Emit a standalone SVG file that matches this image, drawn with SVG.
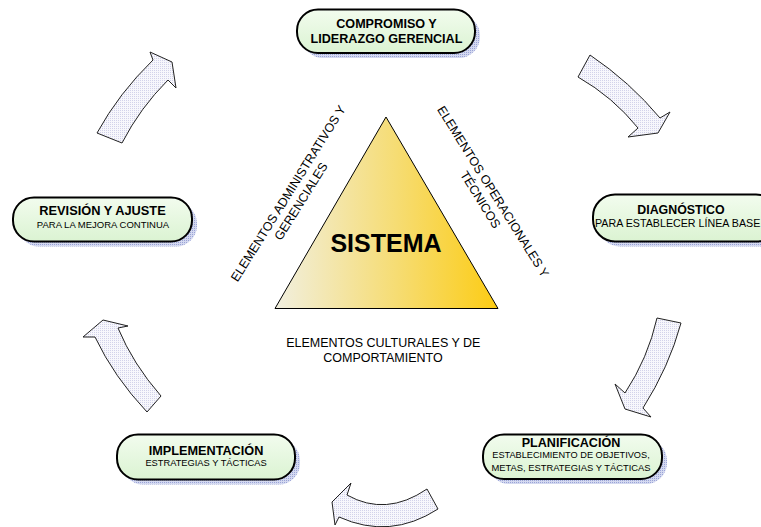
<svg xmlns="http://www.w3.org/2000/svg" width="761" height="527" viewBox="0 0 761 527">
<defs>
<linearGradient id="nodeFill" x1="0" y1="0" x2="0" y2="1">
<stop offset="0" stop-color="#f2fcee"/>
<stop offset="1" stop-color="#dbf3d2"/>
</linearGradient>
<linearGradient id="triFill" x1="0" y1="0" x2="1" y2="0">
<stop offset="0" stop-color="#f1efdf"/>
<stop offset="0.55" stop-color="#f6dc72"/>
<stop offset="1" stop-color="#fccc14"/>
</linearGradient>
<pattern id="shadowPat" width="2" height="2" patternUnits="userSpaceOnUse">
<rect width="2" height="2" fill="#d4d9f0"/>
<rect width="1" height="1" fill="#9aa3d6"/>
</pattern>
<pattern id="arrowPat" width="2" height="2" patternUnits="userSpaceOnUse">
<rect width="2" height="2" fill="#f7f7fc"/>
<rect width="1" height="1" fill="#d2d2ea"/>
</pattern>
<style>
.pill{fill:url(#nodeFill);stroke:#000;stroke-width:2}
.shadow{fill:url(#shadowPat);stroke:none}
.arrow{fill:url(#arrowPat);stroke:#222;stroke-width:1;stroke-linejoin:miter}
.t{font-family:"Liberation Sans",Arial,sans-serif;fill:#000}
.b{font-weight:bold}
.m{text-anchor:middle}
</style>
</defs>
<rect width="761" height="527" fill="#fff"/>

<g id="connectors">
<path class="arrow" d="M97,133 Q119,93 153,60 L150,52 L172,62 L176,88 L168,80 Q140,108 122,143 Z"/>
<path class="arrow" d="M590,55 Q630,82 660,118 L670,112 L658,133 L628,137 L638,128 Q613,97 578,77 Z"/>
<path class="arrow" d="M657,318 L681,323 Q669,367 643,408 L651,417 L625,409 L615,384 L625,393 Q648,358 657,318 Z"/>
<path class="arrow" d="M427,489 Q386,517 347,495 L351,483 L332,502 L335,525 L339,517 Q390,540 438,509 Z"/>
<path class="arrow" d="M161,396 Q133,364 118,328 L128,326 L103,320 L83,337 L95,337 Q114,377 147,412 Z"/>
</g>

<g id="sistema">
<polygon points="386,117 275,308.5 498,308.5" fill="url(#triFill)" stroke="#000" stroke-width="1"/>
<text class="t b m" x="386" y="252" font-size="25">SISTEMA</text>
</g>

<g id="label-admin" transform="translate(291.8,195.7) rotate(-58)">
<text class="t m" x="0" y="0" font-size="12.5">ELEMENTOS ADMINISTRATIVOS Y</text>
<text class="t m" x="0" y="15" font-size="12.5">GERENCIALES</text>
</g>
<g id="label-oper" transform="translate(489.5,193.9) rotate(58)">
<text class="t m" x="0" y="0" font-size="12.5">ELEMENTOS OPERACIONALES Y</text>
<text class="t m" x="0" y="15" font-size="12.5">TÉCNICOS</text>
</g>
<g id="label-cult">
<text class="t m" x="383.3" y="347" font-size="12.5">ELEMENTOS CULTURALES Y DE</text>
<text class="t m" x="383" y="361.5" font-size="12.5">COMPORTAMIENTO</text>
</g>

<g id="compromiso">
<rect class="shadow" x="302" y="14.5" width="178" height="43.5" rx="21"/>
<rect class="pill" x="297" y="9.5" width="178" height="43.5" rx="21"/>
<text class="t b m" x="386.5" y="28" font-size="12.6">COMPROMISO Y</text>
<text class="t b m" x="386.5" y="42.5" font-size="12.6">LIDERAZGO GERENCIAL</text>
</g>

<g id="diagnostico">
<rect class="shadow" x="598" y="199.5" width="185" height="47" rx="22"/>
<rect class="pill" x="593" y="194.5" width="185" height="47" rx="22"/>
<text class="t b m" x="681" y="214" font-size="12.4">DIAGNÓSTICO</text>
<text class="t" x="595" y="227" font-size="10.7">PARA ESTABLECER LÍNEA BASE</text>
</g>

<g id="planificacion">
<rect class="shadow" x="488" y="439.5" width="179" height="44.5" rx="21"/>
<rect class="pill" x="483" y="434.5" width="179" height="44.5" rx="21"/>
<text class="t b m" x="571" y="447" font-size="12.6">PLANIFICACIÓN</text>
<text class="t m" x="571" y="458" font-size="9.2">ESTABLECIMIENTO DE OBJETIVOS,</text>
<text class="t m" x="571" y="470.5" font-size="9.4">METAS, ESTRATEGIAS Y TÁCTICAS</text>
</g>

<g id="implementacion">
<rect class="shadow" x="122" y="439.5" width="178" height="45" rx="21"/>
<rect class="pill" x="117" y="434.5" width="178" height="45" rx="21"/>
<text class="t b m" x="206" y="454.5" font-size="12.7">IMPLEMENTACIÓN</text>
<text class="t m" x="206" y="466" font-size="9.3">ESTRATEGIAS Y TÁCTICAS</text>
</g>

<g id="revision">
<rect class="shadow" x="18" y="202.5" width="179" height="44" rx="21"/>
<rect class="pill" x="13" y="197.5" width="179" height="44" rx="21"/>
<text class="t b m" x="102.5" y="214.5" font-size="12.8">REVISIÓN Y AJUSTE</text>
<text class="t m" x="103" y="227.5" font-size="9.5">PARA LA MEJORA CONTINUA</text>
</g>
</svg>
